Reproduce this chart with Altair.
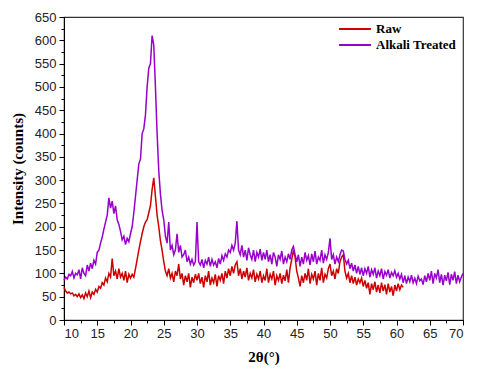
import altair as alt
import pandas as pd
import numpy as np

# 2-theta grid (0.25 deg step)
angle_treated = [round(10 + 0.25 * i, 2) for i in range(241)]   # 10 .. 70
angle_raw = [round(10 + 0.25 * i, 2) for i in range(205)]       # 10 .. 61

alkali = [
    85, 92, 88, 98, 95, 104, 90, 100, 97, 108, 88, 112, 100, 95, 118, 105, 122, 110, 128, 120,
    145, 150, 165, 178, 195, 210, 225, 262, 240, 255, 228, 245, 215, 205, 190, 172, 180, 162, 175, 168,
    185, 200, 230, 265, 300, 335, 345, 400, 410, 440, 500, 540, 550, 610, 590, 500, 400, 320, 270, 235,
    215, 180, 165, 210, 150, 160, 140, 150, 185, 145, 160, 135, 140, 150, 125, 135, 120, 130, 118, 125,
    210, 125, 118, 130, 112, 128, 120, 135, 115, 130, 118, 125, 112, 132, 120, 138, 128, 142, 135, 150,
    145, 160, 150, 165, 212, 150, 140, 160, 135, 150, 128, 155, 140, 130, 150, 125, 145, 135, 152, 128,
    145, 130, 150, 125, 140, 120, 145, 135, 115, 140, 130, 148, 120, 135, 125, 142, 130, 150, 158, 140,
    125, 140, 115, 135, 120, 145, 128, 138, 118, 142, 125, 148, 120, 135, 128, 150, 122, 140, 130, 145,
    175, 130, 140, 120, 135, 125, 140, 150, 148, 130, 120, 128, 110, 122, 105, 118, 100, 115, 98, 112,
    95, 110, 100, 115, 92, 108, 98, 112, 90, 105, 95, 110, 88, 104, 96, 108, 90, 102, 95, 106,
    92, 100, 88, 98, 80, 95, 78, 92, 82, 96, 80, 90, 78, 94, 84, 88, 76, 95, 82, 100,
    85, 105, 78, 100, 90, 108, 80, 98, 75, 96, 84, 102, 76, 98, 85, 104, 78, 96, 82, 92,
    100,
]

raw = [
    70, 62, 58, 60, 56, 58, 52, 55, 50, 56, 48, 54, 46, 58, 50, 62, 48, 60, 55, 66,
    60, 72, 68, 80, 75, 90, 82, 100, 92, 132, 95, 105, 88, 110, 92, 100, 85, 105, 80, 98,
    90, 98, 92, 110, 130, 150, 168, 185, 200, 210, 215, 230, 245, 280, 305, 265, 225, 200, 170, 150,
    125, 105, 95, 110, 90, 100, 82, 105, 95, 120, 88, 100, 75, 95, 82, 100, 70, 92, 80, 98,
    85, 100, 78, 92, 70, 95, 82, 105, 75, 90, 80, 98, 72, 95, 85, 100, 78, 105, 90, 110,
    95, 115, 100, 118, 125, 95, 110, 88, 105, 92, 112, 85, 100, 90, 108, 82, 98, 88, 105, 80,
    95, 85, 110, 80, 98, 88, 105, 75, 95, 85, 100, 78, 96, 84, 108, 80, 112, 130, 150, 135,
    105, 90, 72, 95, 80, 100, 85, 110, 78, 98, 88, 105, 75, 100, 85, 112, 80, 98, 90, 110,
    120, 95, 105, 88, 110, 100, 125, 135, 140, 105, 90, 100, 80, 95, 78, 92, 75, 88, 80, 90,
    72, 85, 68, 80, 55, 78, 65, 82, 60, 75, 58, 80, 62, 76, 55, 78, 60, 72, 52, 75,
    62, 78, 65, 75, 70,
]

series_names = ["Raw", "Alkali Treated"]
series_colors = ["#CC0000", "#9900CC"]

df_raw = pd.DataFrame({"angle": angle_raw, "value": raw, "series": "Raw"})
df_alk = pd.DataFrame({"angle": angle_treated, "value": alkali, "series": "Alkali Treated"})

y_major = list(range(0, 651, 50))
y_minor = list(range(25, 651, 50))
x_major = list(range(10, 71, 5))
x_minor = [12.5 + 5 * i for i in range(12)]

label_font = "Liberation Sans"
title_font = "Liberation Serif"

xscale = alt.Scale(domain=[10, 70], nice=False, zero=False)
yscale = alt.Scale(domain=[0, 650], nice=False)

color = alt.Color(
    "series:N",
    scale=alt.Scale(domain=series_names, range=series_colors),
    sort=series_names,
    legend=alt.Legend(
        title=None,
        orient="none",
        legendX=282,
        legendY=3,
        symbolType="M-2,0H2",
        symbolSize=256,
        symbolStrokeWidth=2,
        labelFont=title_font,
        labelFontWeight="bold",
        labelFontSize=13,
        labelColor="black",
        rowPadding=0,
        labelOffset=12,
    ),
)

x_axis = alt.Axis(
    values=x_major, title="2θ(°)", grid=False, tickSize=5, tickColor="black",
    domainColor="black", labelFont=label_font, labelFontSize=13, labelColor="#222",
    titleFont=title_font, titleFontSize=15, titleFontWeight="bold", titleColor="black",
    titlePadding=9, labelPadding=2, format="d",
)
y_axis = alt.Axis(
    values=y_major, title="Intensity (counts)", grid=False, tickSize=5, tickColor="black",
    domainColor="black", labelFont=label_font, labelFontSize=13, labelColor="#222",
    titleFont=title_font, titleFontSize=15, titleFontWeight="bold", titleColor="black",
    titlePadding=9, labelPadding=3, format="d",
)

red = alt.Chart(df_raw).mark_line(strokeWidth=1.5).encode(
    x=alt.X("angle:Q", scale=xscale, axis=x_axis),
    y=alt.Y("value:Q", scale=yscale, axis=y_axis),
    color=color,
)
purple = alt.Chart(df_alk).mark_line(strokeWidth=1.5).encode(
    x=alt.X("angle:Q", scale=xscale, axis=None),
    y=alt.Y("value:Q", scale=yscale, axis=None),
    color=color,
)
minor = alt.Chart(df_alk).mark_line(opacity=0).encode(
    x=alt.X("angle:Q", scale=xscale, axis=alt.Axis(
        values=x_minor, labels=False, domain=False, grid=False, tickSize=3,
        tickColor="black", title=None, orient="bottom")),
    y=alt.Y("value:Q", scale=yscale, axis=alt.Axis(
        values=y_minor, labels=False, domain=False, grid=False, tickSize=3,
        tickColor="black", title=None, orient="left")),
)

chart = alt.layer(red, purple, minor).resolve_axis(
    x="independent", y="independent"
).properties(
    width=399,
    height=303,
    autosize=alt.AutoSizeParams(type="none"),
    padding={"left": 56, "top": 9, "right": 9, "bottom": 51},
).configure_view(
    stroke="#333", strokeWidth=1.2
)

chart.save("out.html", embed_options={"renderer": "svg", "actions": False})
